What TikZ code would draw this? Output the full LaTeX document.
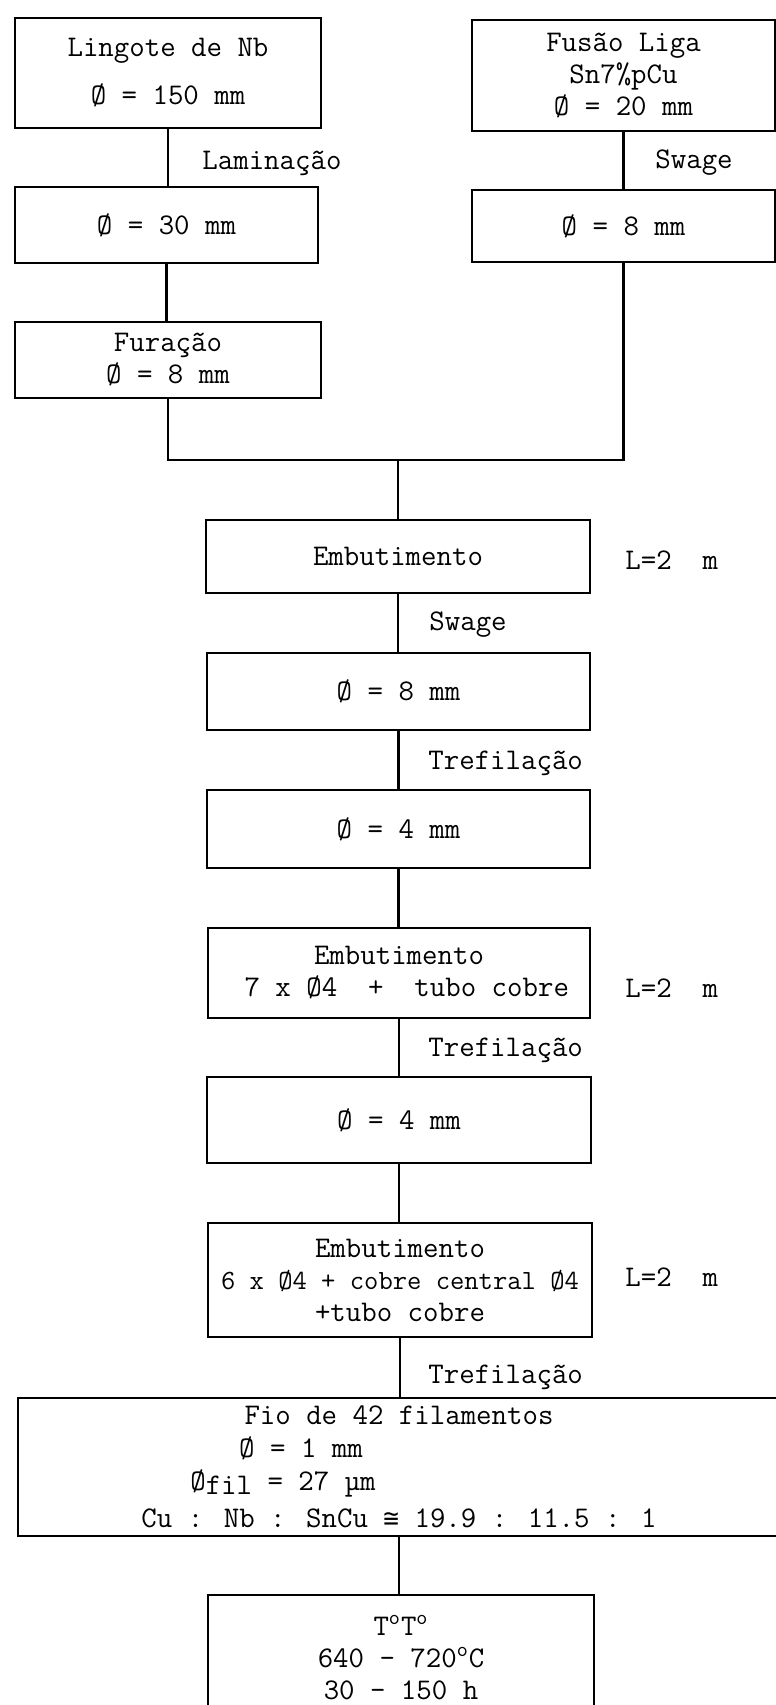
\documentclass[tikz,border=0pt]{standalone}
\usepackage{fontspec}
\usepackage{graphicx}
\newfontfamily\symfnt{DejaVu Sans Mono}
\newcommand\boxfont{\ttfamily\fontsize{15}{16}\selectfont}
\begin{document}
\begin{tikzpicture}[x=0.5pt,y=-0.5pt,
  box/.style={draw, line width=1.4pt, inner sep=0pt, align=center, font=\boxfont},
  lbl/.style={inner sep=0pt, anchor=west, font=\boxfont},
  conn/.style={line width=1.1pt}]
\useasboundingbox (0,0) rectangle (776,1705);
\clip (0,0) rectangle (776,1705);
\fill[white] (0,0) rectangle (776,1705);

% left column
\node[box, minimum width=153pt, minimum height=55pt] (lingote) at (168,73) {Lingote de Nb\\[8pt]Ø = 150 mm};
\node[box, minimum width=151.5pt, minimum height=38pt] (d30) at (166.5,225) {Ø = 30 mm};
\node[box, minimum width=153pt, minimum height=38pt] (fur) at (168,360) {Furação\\Ø = 8 mm};
% right column
\node[box, minimum width=151.5pt, minimum height=55.5pt] (fus) at (623.5,75.5) {Fusão Liga\\Sn7\%pCu\\Ø = 20 mm};
\node[box, minimum width=151.5pt, minimum height=36pt] (d8r) at (623.5,226) {Ø = 8 mm};
% central column
\node[box, minimum width=192pt, minimum height=36.5pt] (emb1) at (398,556.5) {Embutimento};
\node[box, minimum width=191.5pt, minimum height=38.5pt] (d8) at (398.5,691.5) {Ø = 8 mm};
\node[box, minimum width=191.5pt, minimum height=39pt] (d4a) at (398.5,829) {Ø = 4 mm};
\node[box, minimum width=191pt, minimum height=45pt] (emb2) at (399,973) {Embutimento\\~7 x Ø4~~+~~tubo cobre};
\node[box, minimum width=192pt, minimum height=43pt] (d4b) at (399,1120) {Ø = 4 mm};
\node[box, minimum width=192pt, minimum height=57pt] (emb3) at (400,1280) {Embutimento\\{\fontsize{13.9}{16}\selectfont 6 x Ø4 + cobre central Ø4}\\+tubo cobre};
\node[box, minimum width=381pt, minimum height=69pt, font=\ttfamily\fontsize{15}{16.5}\selectfont] (fio) at (399,1467)
  {Fio de 42 filamentos\\Ø = 1 mm\hspace*{98pt}\mbox{}\\Ø\raisebox{-0.3ex}{fil} = 27 \textmu m\hspace*{116pt}\mbox{}\\[2pt]Cu : Nb : SnCu {\symfnt\fontsize{13}{16}\selectfont ≅} 19.9 : 11.5 : 1};
\node[box, minimum width=193pt, minimum height=62.5pt] (tt) at (401,1657.5) {T\textsuperscript{o}T\textsuperscript{o}\\640 - 720\textsuperscript{o}C\\30 - 150 h};

% connectors
\draw[conn] (lingote.south) -- (lingote.south |- d30.north);
\draw[conn] (d30.south) -- (d30.south |- fur.north);
\draw[conn] (fus.south) -- (fus.south |- d8r.north);
\coordinate (j) at (398,460);
\draw[conn] (fur.south) -- (fur.south |- j) -- (d8r.south |- j) -- (d8r.south);
\draw[conn] (j) -- (emb1.north);
\draw[conn] (emb1.south) -- (emb1.south |- d8.north);
\draw[conn] (d8.south) -- (d8.south |- d4a.north);
\draw[conn] (d4a.south) -- (d4a.south |- emb2.north);
\draw[conn] (emb2.south) -- (emb2.south |- d4b.north);
\draw[conn] (d4b.south) -- (d4b.south |- emb3.north);
\draw[conn] (emb3.south) -- (emb3.south |- fio.north);
\draw[conn] (fio.south) -- (fio.south |- tt.north);

% labels
\node[lbl] (lam) at (202,163) {Laminação};
\node[lbl] (swr) at (655,163) {Swage};
\node[lbl] (sw) at (429,625) {Swage};
\node[lbl] (tr1) at (428,763) {Trefilação};
\node[lbl] (tr2) at (428,1050) {Trefilação};
\node[lbl] (tr3) at (428,1377) {Trefilação};
\node[lbl] (l1) at (625,560) {L=2~~m};
\node[lbl] (l2) at (625,988) {L=2~~m};
\node[lbl] (l3) at (625,1277) {L=2~~m};
\end{tikzpicture}
\end{document}
